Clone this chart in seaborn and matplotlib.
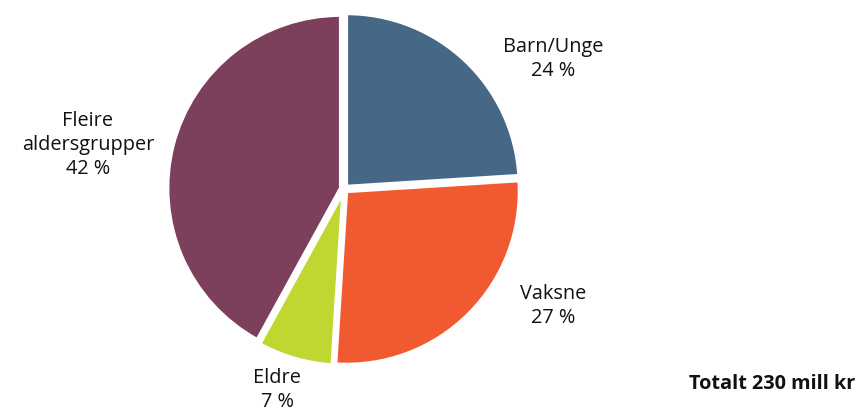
import matplotlib
matplotlib.use("Agg")
import matplotlib.pyplot as plt
import seaborn as sns

categories = ["Barn/Unge", "Vaksne", "Eldre", "Fleire\naldersgrupper"]
shares = [24, 27, 7, 42]
colors = ["#476786", "#f15a30", "#bfd730", "#7c405d"]
total_label = "Totalt 230 mill kr"

sns.set_style("white")
plt.rcParams["font.family"] = ["Open Sans", "DejaVu Sans"]

W, H = 859, 412
fig = plt.figure(figsize=(W / 100, H / 100), dpi=100)
ax = fig.add_axes([0, 0, 1, 1])
R = 173.0
cx, cy = 344, 189  # pixel center (from top)

ax.pie(shares, colors=colors, startangle=90, counterclock=False,
       explode=[0.02] * 4, radius=1.0,
       wedgeprops=dict(edgecolor="white", linewidth=2.5))
ax.set_xlim(-cx / R, (W - cx) / R)
ax.set_ylim(-(H - cy) / R, cy / R)
ax.set_aspect("auto")
ax.axis("off")

def px(x, y):
    return (x - cx) / R, (cy - y) / R

label_pos = [(553, 59), (553, 306), (277, 390), (88, 145)]
for name, val, (x, y) in zip(categories, shares, label_pos):
    tx, ty = px(x, y)
    ax.text(tx, ty, f"{name}\n{val} %", ha="center", va="center",
            fontsize=14.3, color="#111111", linespacing=1.28)

tx, ty = px(855, 384)
ax.text(tx, ty, total_label, ha="right", va="center", fontsize=14.3,
        fontweight="bold", color="#111111")

fig.savefig("out.png", dpi=100, facecolor="white")
